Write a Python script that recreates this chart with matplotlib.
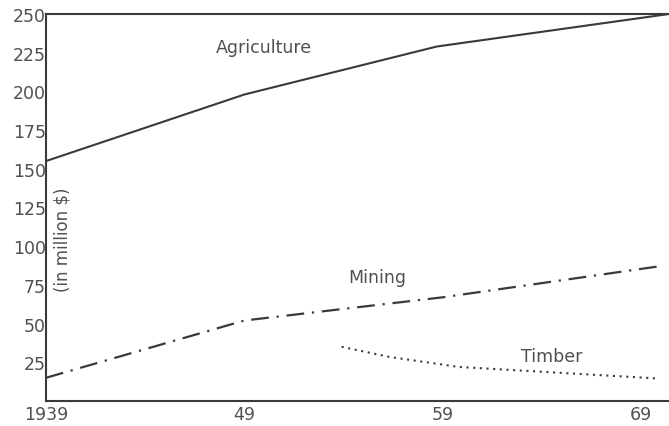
import matplotlib
matplotlib.use("Agg")
import matplotlib.pyplot as plt

plt.rcParams['font.family'] = ['DejaVu Sans']

# Values (in million $)
agri_years = [1939, 1949, 1958.7, 1970.4]
agri_vals = [155, 198, 229, 250]

mining_years = [1939, 1949, 1959, 1969.9]
mining_vals = [15, 52, 67, 87]

timber_years = [1953.9, 1956.3, 1959.8, 1969.9]
timber_vals = [35, 28.5, 22, 14.5]

x_ticks = [1939, 1949, 1959, 1969]
x_tick_labels = ["1939", "49", "59", "69"]
y_ticks = [25, 50, 75, 100, 125, 150, 175, 200, 225, 250]

ink = "#3a3a3a"
text_col = "#505050"

fig = plt.figure(figsize=(6.69, 4.27), dpi=100)
ax = fig.add_axes([46 / 669, 25 / 427, 623 / 669, 387 / 427])

ax.plot(agri_years, agri_vals, color=ink, linewidth=1.5, solid_capstyle="butt")
ax.plot(mining_years, mining_vals, color=ink, linewidth=1.6,
        linestyle=(0, (8, 3.5, 1, 3.5)))
ax.plot(timber_years, timber_vals, color=ink, linewidth=1.5,
        linestyle=(0, (1, 2.2)))

ax.set_xlim(1939, 1970.4)
ax.set_ylim(0, 250)

ax.set_xticks(x_ticks)
ax.set_xticklabels(x_tick_labels)
ax.set_yticks(y_ticks)
ax.tick_params(length=0, labelsize=12.5, colors=text_col, pad=3)
ax.tick_params(axis="y", pad=0)

for side in ["left", "bottom", "top"]:
    ax.spines[side].set_color(ink)
    ax.spines[side].set_linewidth(1.5)
ax.spines["right"].set_visible(False)

# Labels placed on the chart
ax.text(1950.0, 229, "Agriculture", fontsize=12.5, color=text_col, ha="center", va="center")
ax.text(1955.7, 80, "Mining", fontsize=12.5, color=text_col, ha="center", va="center")
ax.text(1964.5, 29, "Timber", fontsize=12.5, color=text_col, ha="center", va="center")
ax.text(1939.85, 105, "(in million $)", fontsize=12, color=text_col,
        rotation=90, ha="center", va="center")

plt.savefig("out.png", dpi=100)
plt.close()
